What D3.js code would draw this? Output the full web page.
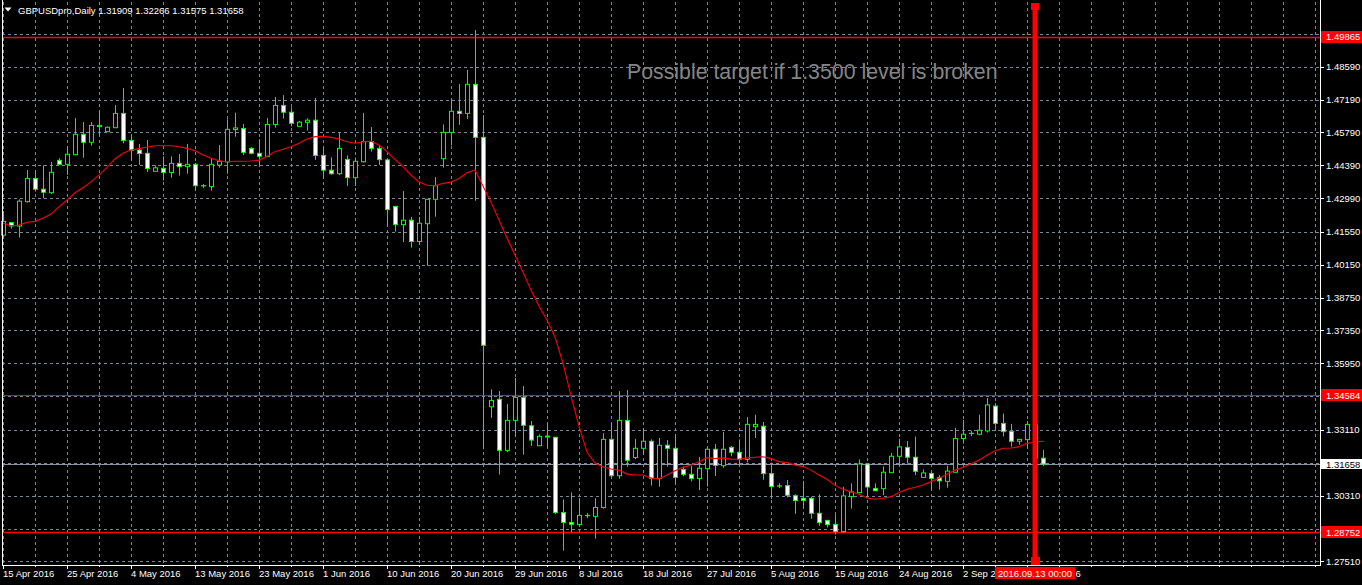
<!DOCTYPE html>
<html><head><meta charset="utf-8">
<script src="https://cdn.jsdelivr.net/npm/d3@7/dist/d3.min.js"></script>
<style>html,body{margin:0;padding:0;background:#000;overflow:hidden}svg{display:block}</style>
</head><body><svg id="c" width="1362" height="585"></svg>
<script>
// ---- data (GBPUSDpro, Daily) ----
const symbolTitle = "GBPUSDpro,Daily";
const open = [1.4141,1.4195,1.4180,1.4284,1.4383,1.4337,1.4322,1.4460,1.4443,1.4484,1.4571,1.4537,1.4604,1.4582,1.4599,1.4660,1.4545,1.4504,1.4490,1.4413,1.4426,1.4408,1.4447,1.4433,1.4443,1.4351,1.4348,1.4440,1.4453,1.4591,1.4596,1.4511,1.4490,1.4477,1.4613,1.4694,1.4665,1.4605,1.4622,1.4631,1.4481,1.4418,1.4403,1.4464,1.4386,1.4454,1.4540,1.4511,1.4462,1.4264,1.4186,1.4205,1.4114,1.4190,1.4294,1.4467,1.4579,1.4669,1.4660,1.4784,1.4558,1.3410,1.3442,1.3224,1.3352,1.3450,1.3329,1.3244,1.3281,1.3280,1.2959,1.2917,1.2908,1.2947,1.2943,1.2981,1.3271,1.3116,1.3352,1.3194,1.3233,1.3263,1.3104,1.3246,1.3233,1.3143,1.3122,1.3104,1.3146,1.3229,1.3159,1.3237,1.3216,1.3186,1.3325,1.3327,1.3125,1.3072,1.3074,1.3031,1.3020,1.3020,1.2956,1.2926,1.2909,1.2878,1.3027,1.3044,1.3166,1.3062,1.3061,1.3129,1.3199,1.3237,1.3195,1.3109,1.3126,1.3108,1.3092,1.3131,1.3275,1.3297,1.3293,1.3307,1.3413,1.3339,1.3305,1.3263,1.3270,1.3333,1.31909];
const high = [1.4244,1.4197,1.4294,1.4419,1.4419,1.4439,1.4453,1.4469,1.4521,1.4640,1.4623,1.4623,1.4673,1.4604,1.4696,1.4768,1.4572,1.4530,1.4547,1.4439,1.4477,1.4477,1.4487,1.4530,1.4449,1.4359,1.4467,1.4525,1.4635,1.4663,1.4615,1.4516,1.4550,1.4640,1.4730,1.4738,1.4686,1.4628,1.4639,1.4726,1.4516,1.4473,1.4581,1.4481,1.4472,1.4662,1.4602,1.4524,1.4463,1.4265,1.4329,1.4219,1.4219,1.4295,1.4389,1.4613,1.4719,1.4785,1.4845,1.5015,1.4653,1.3484,1.3477,1.3422,1.3533,1.3498,1.3349,1.3292,1.3342,1.3281,1.3015,1.3045,1.3021,1.2957,1.3020,1.3297,1.3342,1.3477,1.3481,1.3273,1.3317,1.3271,1.3277,1.3268,1.3294,1.3155,1.3158,1.3196,1.3243,1.3251,1.3302,1.3243,1.3271,1.3366,1.3376,1.3345,1.3172,1.3084,1.3098,1.3037,1.3094,1.3027,1.3037,1.2927,1.2949,1.3069,1.3084,1.3186,1.3167,1.3084,1.3156,1.3213,1.3273,1.3264,1.3283,1.3143,1.3133,1.3119,1.3159,1.3320,1.3354,1.3308,1.3376,1.3447,1.3425,1.3381,1.3337,1.3273,1.3349,1.3345,1.32266];
const low = [1.4132,1.4169,1.4131,1.4280,1.4327,1.4298,1.4317,1.4439,1.4398,1.4482,1.4471,1.4523,1.4567,1.4581,1.4598,1.4533,1.4459,1.4440,1.4410,1.4412,1.4374,1.4386,1.4395,1.4403,1.4331,1.4342,1.4331,1.4429,1.4403,1.4561,1.4483,1.4486,1.4439,1.4474,1.4599,1.4638,1.4605,1.4604,1.4587,1.4462,1.4382,1.4398,1.4397,1.4351,1.4350,1.4450,1.4497,1.4440,1.4178,1.4156,1.4112,1.4088,1.4100,1.4011,1.4220,1.4429,1.4524,1.4611,1.4636,1.4288,1.3229,1.3363,1.3121,1.3217,1.3283,1.3206,1.3243,1.3243,1.3233,1.2952,1.2797,1.2876,1.2899,1.2935,1.2848,1.2976,1.3104,1.3103,1.3155,1.3186,1.3207,1.3074,1.3069,1.3155,1.3078,1.3114,1.3092,1.3055,1.3070,1.3115,1.3150,1.3199,1.3155,1.3173,1.3277,1.3099,1.3017,1.3064,1.3024,1.2954,1.2977,1.2933,1.2903,1.2896,1.2866,1.2873,1.2976,1.3041,1.3023,1.3051,1.3033,1.3128,1.3155,1.3168,1.3119,1.3108,1.3054,1.3057,1.3065,1.3130,1.3253,1.3285,1.3288,1.3300,1.3318,1.3283,1.3240,1.3248,1.3231,1.3160,1.31575];
const close = [1.4200,1.4180,1.4286,1.4383,1.4337,1.4324,1.4409,1.4443,1.4486,1.4571,1.4537,1.4609,1.4609,1.4601,1.4660,1.4545,1.4503,1.4489,1.4425,1.4428,1.4408,1.4447,1.4433,1.4443,1.4352,1.4352,1.4443,1.4456,1.4592,1.4598,1.4494,1.4490,1.4477,1.4613,1.4694,1.4665,1.4618,1.4623,1.4631,1.4481,1.4418,1.4403,1.4511,1.4386,1.4456,1.4540,1.4511,1.4463,1.4250,1.4186,1.4205,1.4114,1.4192,1.4294,1.4352,1.4579,1.4669,1.4660,1.4784,1.4558,1.3672,1.3437,1.3224,1.3352,1.3450,1.3331,1.3268,1.3284,1.3285,1.2959,1.2917,1.2909,1.2947,1.2946,1.2981,1.3271,1.3116,1.3352,1.3182,1.3233,1.3263,1.3104,1.3246,1.3233,1.3109,1.3122,1.3104,1.3148,1.3229,1.3160,1.3229,1.3216,1.3186,1.3335,1.3335,1.3125,1.3070,1.3073,1.3033,1.3010,1.3011,1.2956,1.2916,1.2908,1.2878,1.3030,1.3047,1.3166,1.3068,1.3052,1.3131,1.3199,1.3239,1.3195,1.3135,1.3128,1.3104,1.3094,1.3136,1.3275,1.3293,1.3296,1.3310,1.3418,1.3339,1.3304,1.3263,1.3271,1.3335,1.3191,1.31658];
const movingAverage = [1.4192,1.4181,1.4184,1.4196,1.4200,1.4213,1.4231,1.4262,1.4291,1.4322,1.4343,1.4368,1.4397,1.4430,1.4466,1.4490,1.4504,1.4510,1.4517,1.4522,1.4522,1.4522,1.4518,1.4511,1.4501,1.4483,1.4469,1.4458,1.4454,1.4456,1.4456,1.4457,1.4461,1.4476,1.4497,1.4507,1.4518,1.4533,1.4551,1.4561,1.4562,1.4558,1.4551,1.4539,1.4533,1.4539,1.4541,1.4525,1.4497,1.4464,1.4433,1.4397,1.4368,1.4354,1.4352,1.4362,1.4368,1.4383,1.4407,1.4419,1.4351,1.4282,1.4206,1.4129,1.4057,1.3984,1.3907,1.3839,1.3780,1.3707,1.3596,1.3456,1.3328,1.3217,1.3170,1.3153,1.3145,1.3140,1.3123,1.3119,1.3119,1.3106,1.3102,1.3119,1.3137,1.3152,1.3162,1.3176,1.3193,1.3189,1.3192,1.3186,1.3186,1.3192,1.3195,1.3197,1.3189,1.3176,1.3172,1.3162,1.3155,1.3140,1.3119,1.3101,1.3075,1.3059,1.3047,1.3037,1.3021,1.3016,1.3020,1.3027,1.3045,1.3058,1.3067,1.3077,1.3091,1.3105,1.3122,1.3140,1.3152,1.3166,1.3183,1.3203,1.3223,1.3233,1.3234,1.3240,1.3254,1.3260,1.3263];
const dateTickLabels = ["15 Apr 2016","25 Apr 2016","4 May 2016","13 May 2016","23 May 2016","1 Jun 2016","10 Jun 2016","20 Jun 2016","29 Jun 2016","8 Jul 2016","18 Jul 2016","27 Jul 2016","5 Aug 2016","15 Aug 2016","24 Aug 2016","2 Sep 2016","12 Sep 2016"];
const dateTickBars = [0,8,16,24,32,40,48,56,64,72,80,88,96,104,112,120,128];
const priceTickLabels = ["1.48590","1.47190","1.45790","1.44390","1.42990","1.41550","1.40150","1.38750","1.37350","1.35950","1.33110","1.30310","1.27510"];
const hiddenGridPrices = [1.49990,1.34550,1.31710,1.28910];
const levelPrices = [1.49865,1.34584,1.28752];
const bidPrice = 1.31658;
const markerBar = 129;
const markerLabel = "2016.09.13 00:00";
const note = "Possible target if 1.3500 level is broken";

// ---- layout ----
const W = 1362, H = 585;
const plotLeft = 2, plotRight = 1320, plotTop = 2, plotBottom = 565;
const svg = d3.select("#c");
const FONT = "'Liberation Sans', Arial, sans-serif";

const x = d3.scaleLinear().domain([0, 164]).range([3, 1315]);
const y = d3.scaleLinear().domain([1.27357, 1.51347]).range([plotBottom, plotTop]);
const px = v => Math.round(v) + 0.5;

svg.append("rect").attr("width", W).attr("height", H).attr("fill", "#000");

// grid
const gridCol = "#778899";
const g = svg.append("g");
const vGrid = d3.range(0, 165, 4);
g.selectAll("line.vg").data(vGrid).join("line")
  .attr("x1", d => px(x(d))).attr("x2", d => px(x(d)))
  .attr("y1", plotTop).attr("y2", plotBottom)
  .attr("stroke", gridCol).attr("stroke-width", 1).attr("stroke-dasharray", "3,3");
const hGrid = priceTickLabels.map(Number).concat(hiddenGridPrices);
g.selectAll("line.hg").data(hGrid).join("line")
  .attr("x1", plotLeft).attr("x2", plotRight)
  .attr("y1", d => px(y(d))).attr("y2", d => px(y(d)))
  .attr("stroke", gridCol).attr("stroke-width", 1).attr("stroke-dasharray", "3,3");

// bid line
svg.append("line").attr("x1", plotLeft).attr("x2", plotRight)
  .attr("y1", px(y(bidPrice))).attr("y2", px(y(bidPrice)))
  .attr("stroke", "#8a96a3").attr("stroke-width", 1);

// horizontal level lines
svg.selectAll("line.lvl").data(levelPrices).join("line")
  .attr("x1", plotLeft).attr("x2", plotRight)
  .attr("y1", d => px(y(d))).attr("y2", d => px(y(d)))
  .attr("stroke", "#ff0000").attr("stroke-width", (d,i) => i === 1 ? 1 : 1.4);

// candles
const bars = d3.range(open.length);
const cg = svg.append("g");
cg.selectAll("line.wick").data(bars).join("line")
  .attr("x1", i => px(x(i))).attr("x2", i => px(x(i)))
  .attr("y1", i => y(high[i])).attr("y2", i => y(low[i]))
  .attr("stroke", "#00ff00").attr("stroke-width", 1);
cg.selectAll("rect.body").data(bars).join("rect")
  .attr("x", i => Math.round(x(i)) - 1.5)
  .attr("width", 4)
  .attr("y", i => y(Math.max(open[i], close[i])))
  .attr("height", i => Math.max(0.3, Math.abs(y(open[i]) - y(close[i]))))
  .attr("fill", i => close[i] >= open[i] ? "#000" : "#fff")
  .attr("stroke", "#00ff00").attr("stroke-width", 1);

// moving average
svg.append("path").datum(bars)
  .attr("d", d3.line().x(i => x(i)).y(i => y(movingAverage[i])))
  .attr("fill", "none").attr("stroke", "#ff0000").attr("stroke-width", 1.1);

// vertical marker line
const mx = Math.round(x(markerBar));
svg.append("rect").attr("x", mx - 2.5).attr("width", 5).attr("y", 4).attr("height", plotBottom - 6).attr("fill", "#ff0000");
svg.append("rect").attr("x", mx - 4).attr("width", 8).attr("y", 3).attr("height", 7).attr("fill", "#ff0000");
svg.append("rect").attr("x", mx - 4).attr("width", 9).attr("y", 557).attr("height", 8).attr("fill", "#ff0000");

// note text
svg.append("text").attr("x", 627).attr("y", 79)
  .attr("font-family", FONT).attr("font-size", 21.3).attr("fill", "#858585")
  .text(note);

// frame
svg.append("line").attr("x1", 2.5).attr("x2", 2.5).attr("y1", 0).attr("y2", plotBottom).attr("stroke", "#fff");
svg.append("line").attr("x1", plotRight + 0.5).attr("x2", plotRight + 0.5).attr("y1", 0).attr("y2", plotBottom + 1).attr("stroke", "#fff");
svg.append("line").attr("x1", 2).attr("x2", plotRight + 1).attr("y1", plotBottom + 0.5).attr("y2", plotBottom + 0.5).attr("stroke", "#fff");

// right axis
const ra = svg.append("g");
ra.selectAll("line.rt").data(priceTickLabels).join("line")
  .attr("x1", plotRight).attr("x2", plotRight + 4)
  .attr("y1", d => px(y(+d))).attr("y2", d => px(y(+d))).attr("stroke", "#fff");
ra.selectAll("text.rl").data(priceTickLabels).join("text")
  .attr("x", 1326).attr("y", d => y(+d) + 3.5)
  .attr("font-family", FONT).attr("font-size", 9.5).attr("fill", "#fff").text(d => d);
// level labels
const lvl = ra.selectAll("g.lv").data(levelPrices).join("g");
lvl.append("rect").attr("x", 1321).attr("width", 41).attr("y", d => Math.round(y(d)) - 6).attr("height", 12).attr("fill", "#ff0000");
lvl.append("text").attr("x", 1326).attr("y", d => y(d) + 3.5)
  .attr("font-family", FONT).attr("font-size", 9.5).attr("fill", "#fff").text(d => d.toFixed(5));
// bid label
ra.append("rect").attr("x", 1321).attr("width", 41).attr("y", Math.round(y(bidPrice)) - 5).attr("height", 10).attr("fill", "#fff");
ra.append("text").attr("x", 1326).attr("y", y(bidPrice) + 3.5)
  .attr("font-family", FONT).attr("font-size", 9.5).attr("fill", "#000").text(bidPrice.toFixed(5));

// bottom axis
const ba = svg.append("g");
ba.selectAll("line.bt").data(vGrid).join("line")
  .attr("x1", d => px(x(d))).attr("x2", d => px(x(d)))
  .attr("y1", plotBottom).attr("y2", d => dateTickBars.includes(d) ? plotBottom + 4 : plotBottom + 2)
  .attr("stroke", "#fff");
ba.selectAll("text.bl").data(dateTickLabels).join("text")
  .attr("x", (d, i) => x(dateTickBars[i]))
  .attr("y", 577)
  .attr("font-family", FONT).attr("font-size", 9.5).attr("fill", "#fff").text(d => d);
// marker label
ba.append("rect").attr("x", mx - 40).attr("width", 80).attr("y", 567).attr("height", 12).attr("fill", "#ff0000");
ba.append("text").attr("x", mx).attr("y", 577).attr("text-anchor", "middle")
  .attr("font-family", FONT).attr("font-size", 9.5).attr("fill", "#fff").text(markerLabel);

// title
svg.append("path").attr("d", "M4.5,7.5 L11.5,7.5 L8,11.5 Z").attr("fill", "#fff");
svg.append("text").attr("x", 18).attr("y", 13.5)
  .attr("font-family", FONT).attr("font-size", 9.5).attr("fill", "#fff")
  .text(symbolTitle + "  " + [open[130], high[130], low[130], close[130]].map(v => v.toFixed(5)).join(" "));
</script></body></html>
